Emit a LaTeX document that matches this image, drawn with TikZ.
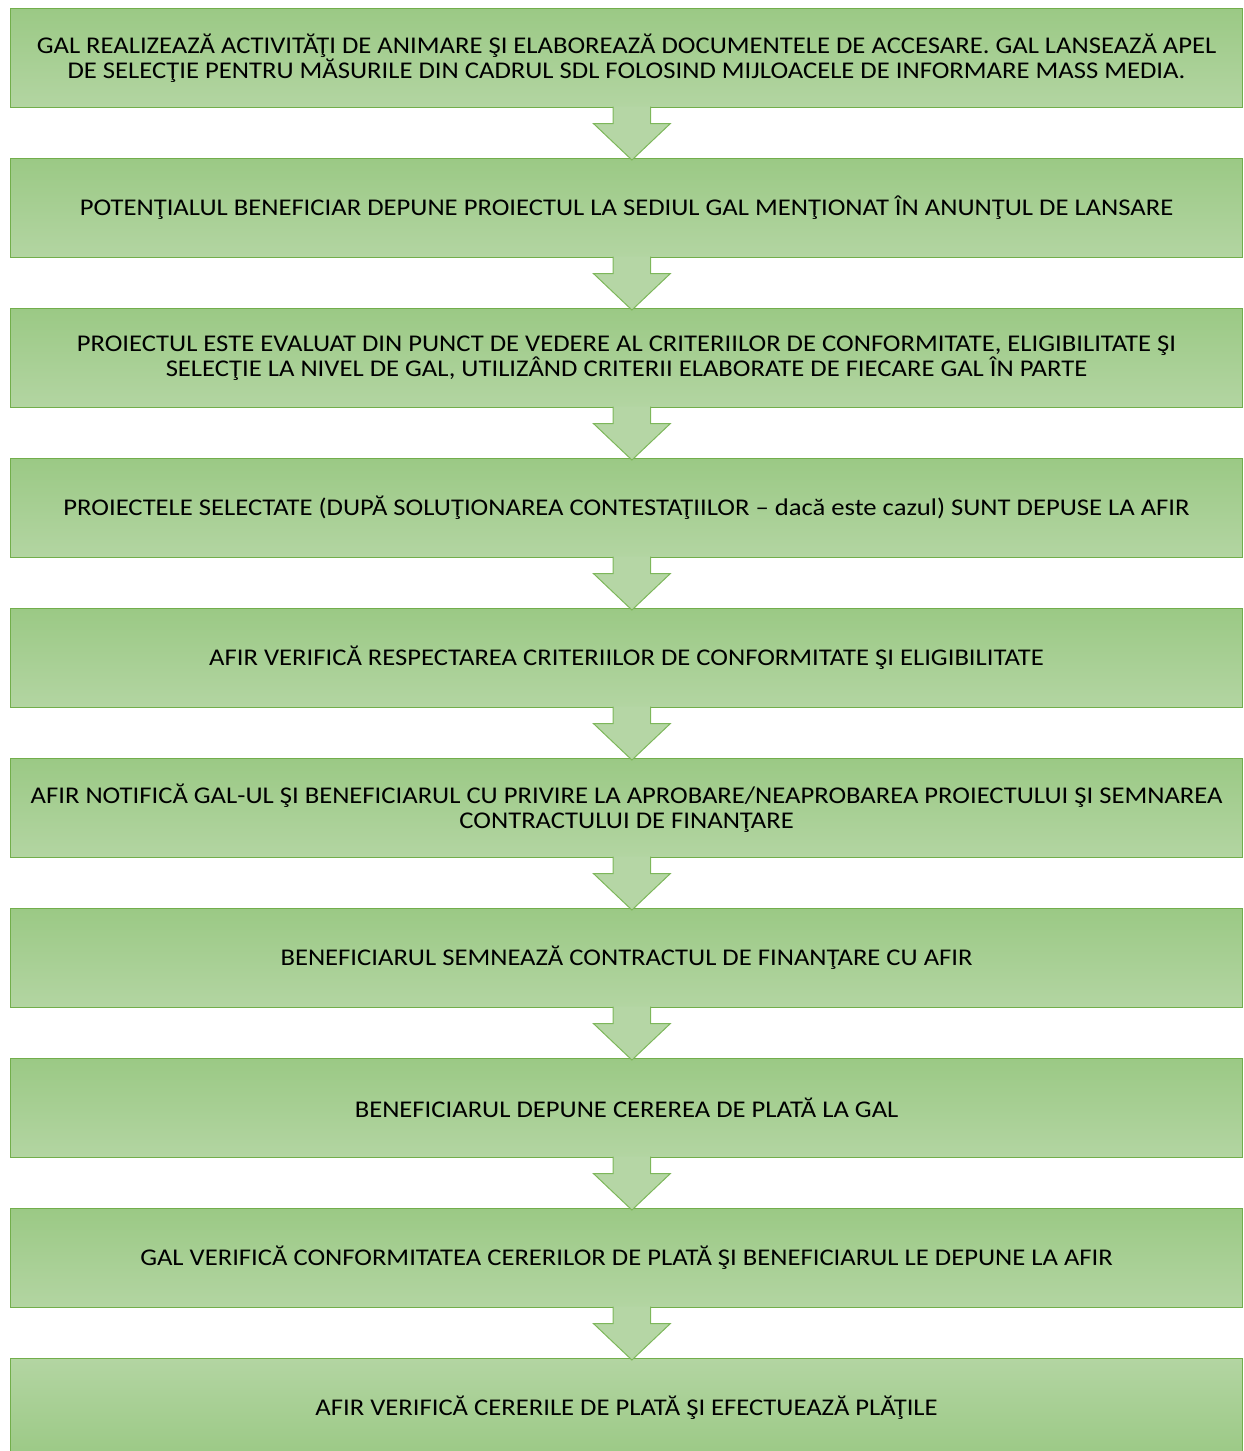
\documentclass[tikz,border=0pt]{standalone}
\usepackage{fontspec}
\setmainfont{Carlito}[FakeStretch=1.11]
\usetikzlibrary{calc}
\definecolor{gtop}{HTML}{9BC985}
\definecolor{gbot}{HTML}{B3D5A2}
\definecolor{gline}{HTML}{72AE4B}
\definecolor{afill}{HTML}{B5D6A5}
\definecolor{aline}{HTML}{7DB75A}
\begin{document}
\begin{tikzpicture}[x=1pt,y=-1pt,
  stepbox/.style={draw=gline, line width=1.2pt, top color=gtop, bottom color=gbot,
    minimum width=1232pt, minimum height=99pt, inner sep=0pt, align=center,
    font=\fontsize{24}{25.7}\selectfont, anchor=north west},
  lastbox/.style={stepbox, top color=gbot, bottom color=gtop},
  flowarrow/.style={fill=afill, draw=aline, line width=1pt, line join=miter}]
\useasboundingbox (0,0) rectangle (1244,1451);
\node[stepbox] (b1) at (10,8) {GAL REALIZEAZĂ ACTIVITĂŢI DE ANIMARE ŞI ELABOREAZĂ DOCUMENTELE DE ACCESARE. GAL LANSEAZĂ APEL\\DE SELECŢIE PENTRU MĂSURILE DIN CADRUL SDL FOLOSIND MIJLOACELE DE INFORMARE MASS MEDIA.};
\node[stepbox] (b2) at (10,158) {POTENŢIALUL BENEFICIAR DEPUNE PROIECTUL LA SEDIUL GAL MENŢIONAT ÎN ANUNŢUL DE LANSARE};
\node[stepbox] (b3) at (10,308) {PROIECTUL ESTE EVALUAT DIN PUNCT DE VEDERE AL CRITERIILOR DE CONFORMITATE, ELIGIBILITATE ŞI\\SELECŢIE LA NIVEL DE GAL, UTILIZÂND CRITERII ELABORATE DE FIECARE GAL ÎN PARTE};
\node[stepbox] (b4) at (10,458) {PROIECTELE SELECTATE (DUPĂ SOLUŢIONAREA CONTESTAŢIILOR – dacă este cazul) SUNT DEPUSE LA AFIR};
\node[stepbox] (b5) at (10,608) {AFIR VERIFICĂ RESPECTAREA CRITERIILOR DE CONFORMITATE ŞI ELIGIBILITATE};
\node[stepbox] (b6) at (10,758) {AFIR NOTIFICĂ GAL-UL ŞI BENEFICIARUL CU PRIVIRE LA APROBARE/NEAPROBAREA PROIECTULUI ŞI SEMNAREA\\CONTRACTULUI DE FINANŢARE};
\node[stepbox] (b7) at (10,908) {BENEFICIARUL SEMNEAZĂ CONTRACTUL DE FINANŢARE CU AFIR};
\node[stepbox] (b8) at (10,1058) {BENEFICIARUL DEPUNE CEREREA DE PLATĂ LA GAL};
\node[stepbox] (b9) at (10,1208) {GAL VERIFICĂ CONFORMITATEA CERERILOR DE PLATĂ ŞI BENEFICIARUL LE DEPUNE LA AFIR};
\node[lastbox] (b10) at (10,1358) {AFIR VERIFICĂ CERERILE DE PLATĂ ŞI EFECTUEAZĂ PLĂŢILE};
\foreach \i [evaluate=\i as \j using int(\i+1)] in {1,...,9}{
  \coordinate (s\i) at ($(b\i.south)+(5.3,0)$);
  \coordinate (t\i) at ($(b\j.north)+(5.3,2)$);
  \filldraw[flowarrow] ($(s\i)+(-18.7,-1.5)$) -- ($(s\i)+(-18.7,15.3)$) -- ($(s\i)+(-38.5,15.3)$)
    -- (t\i) -- ($(s\i)+(38.5,15.3)$) -- ($(s\i)+(18.7,15.3)$) -- ($(s\i)+(18.7,-1.5)$);
}
\end{tikzpicture}
\end{document}
